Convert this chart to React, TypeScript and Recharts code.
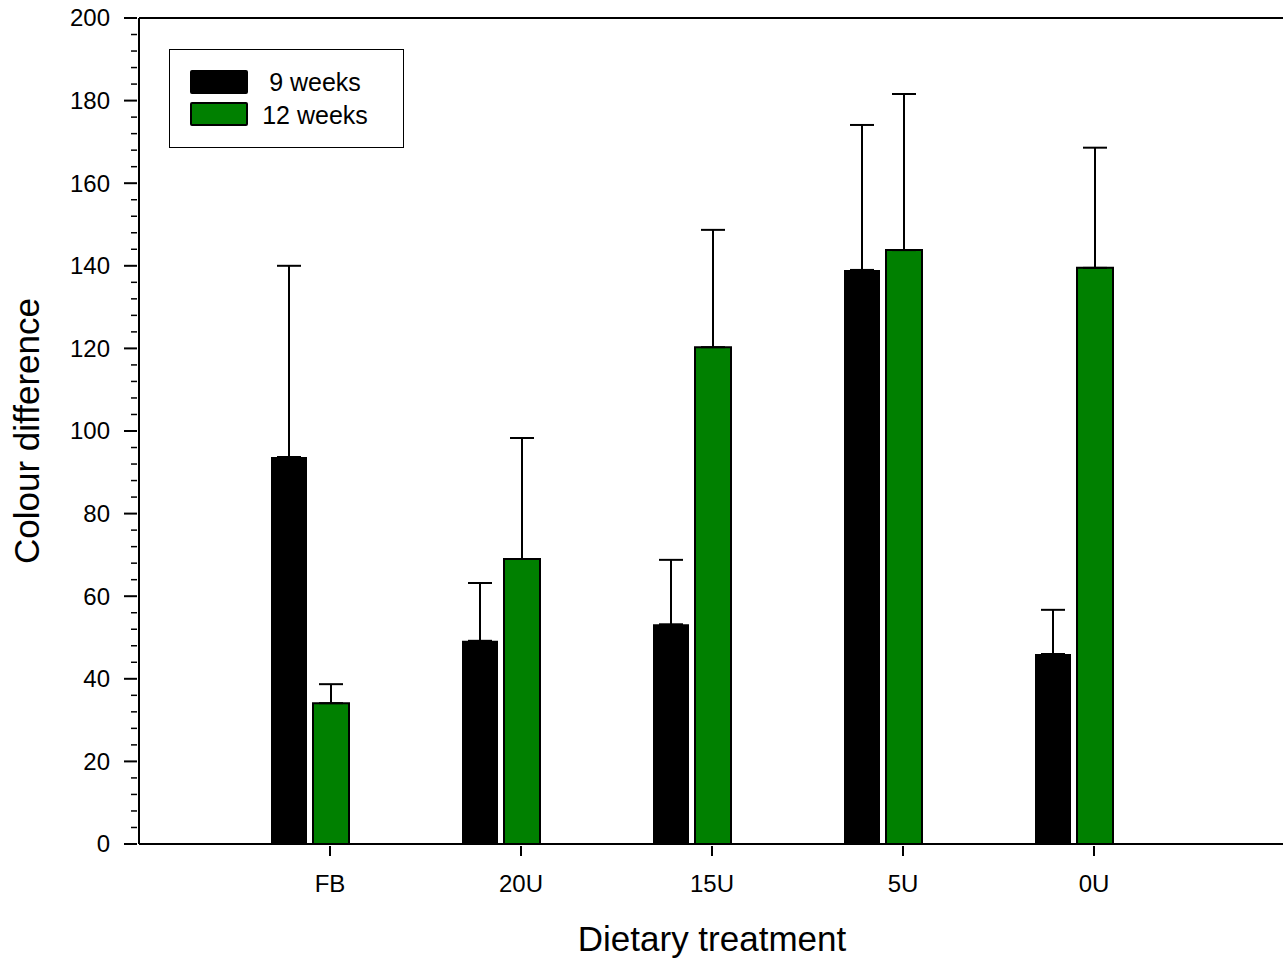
import { BarChart, Bar, XAxis, YAxis, ErrorBar, ReferenceLine } from "recharts";

const treatments = ["FB", "20U", "15U", "5U", "0U"];
const weeks9 = [93.7, 49.2, 53.2, 139.0, 46.0];
const weeks9Err = [46.3, 14.0, 15.6, 35.1, 10.7];
const weeks12 = [34.1, 69.0, 120.3, 143.8, 139.5];
const weeks12Err = [4.6, 29.3, 28.4, 37.8, 29.1];
const seriesNames = ["9 weeks", "12 weeks"];
const seriesColors = ["#000000", "#008000"];

// every 4 units a tick, label on multiples of 20
const yTicks = Array.from({ length: 51 }, (_, i) => i * 4);

const data = treatments.map((name, i) => ({
  name,
  w9: weeks9[i],
  w9err: [0, weeks9Err[i]],
  w12: weeks12[i],
  w12err: [0, weeks12Err[i]],
}));

const FONT = "Arial, 'Liberation Sans', Helvetica, sans-serif";

function LeftTick({ x, y, payload }: any) {
  const major = payload.value % 20 === 0;
  return (
    <g>
      <line x1={x - (major ? 13 : 6)} x2={x} y1={y} y2={y} stroke="#000" strokeWidth={major ? 2 : 1.5} />
      {major && (
        <text x={x - 27} y={y} dy="0.35em" textAnchor="end" fontSize={24} fill="#000" fontFamily={FONT}>
          {payload.value}
        </text>
      )}
    </g>
  );
}

function RightTick({ x, y, payload }: any) {
  const major = payload.value % 20 === 0;
  return (
    <line x1={x - (major ? 13 : 6)} x2={x} y1={y} y2={y} stroke="#000" strokeWidth={major ? 2 : 1.5} />
  );
}

function BottomTick({ x, y, payload }: any) {
  // ticks sit a little right of the group centre, like the original plot
  const cx = x + 20.5;
  return (
    <g>
      <line x1={cx} x2={cx} y1={y} y2={y + 10} stroke="#000" strokeWidth={2} />
      <text x={cx} y={y + 38} dy="0.35em" textAnchor="middle" fontSize={24} fill="#000" fontFamily={FONT}>
        {payload.value}
      </text>
    </g>
  );
}

function LegendBox() {
  return (
    <div
      style={{
        position: "absolute",
        left: 169,
        top: 49,
        width: 235,
        height: 99,
        boxSizing: "border-box",
        border: "1px solid #000",
        background: "#fff",
      }}
    >
      {seriesNames.map((n, i) => (
        <div key={n}>
          <div
            style={{
              position: "absolute",
              left: 20,
              top: 20 + i * 32,
              width: 58,
              height: 24,
              boxSizing: "border-box",
              background: seriesColors[i],
              border: "2px solid #000",
              borderRadius: 2,
            }}
          />
          <span
            style={{
              position: "absolute",
              left: 145,
              top: 32 + i * 33,
              transform: "translate(-50%, -50%)",
              fontSize: 25,
              lineHeight: 1,
              whiteSpace: "nowrap",
              fontFamily: FONT,
              color: "#000",
            }}
          >
            {n}
          </span>
        </div>
      ))}
    </div>
  );
}

export default function App() {
  return (
    <div
      style={{
        position: "absolute",
        left: 0,
        top: 0,
        width: 1283,
        height: 960,
        overflow: "hidden",
        background: "#fff",
        fontFamily: FONT,
      }}
    >
      <BarChart
        width={1300}
        height={960}
        data={data}
        margin={{ top: 18, right: 0, bottom: 0, left: 0 }}
        barSize={36}
        barGap={6}
      >
        <XAxis
          dataKey="name"
          height={116}
          padding={{ left: 75, right: 116 }}
          tickSize={0}
          tickLine={false}
          interval={0}
          tick={<BottomTick />}
          axisLine={{ stroke: "#000", strokeWidth: 2 }}
          label={{
            value: "Dietary treatment",
            position: "insideBottom",
            offset: 9,
            fontSize: 35,
            fill: "#000",
          }}
        />
        <YAxis
          width={139}
          domain={[0, 200]}
          ticks={yTicks}
          interval={0}
          tickSize={0}
          tickLine={false}
          tick={<LeftTick />}
          axisLine={{ stroke: "#000", strokeWidth: 2 }}
          label={{
            value: "Colour difference",
            angle: -90,
            position: "insideLeft",
            offset: 27,
            fontSize: 35,
            fill: "#000",
            style: { textAnchor: "middle" },
          }}
        />
        <YAxis
          yAxisId="right"
          orientation="right"
          width={15}
          domain={[0, 200]}
          ticks={yTicks}
          interval={0}
          tickSize={0}
          tickLine={false}
          tick={<RightTick />}
          axisLine={{ stroke: "#000", strokeWidth: 2 }}
        />
        <ReferenceLine y={200} stroke="#000" strokeWidth={2} />
        <Bar dataKey="w9" name={seriesNames[0]} fill={seriesColors[0]} isAnimationActive={false}>
          <ErrorBar dataKey="w9err" direction="y" width={12} stroke="#000" strokeWidth={2} isAnimationActive={false} />
        </Bar>
        <Bar
          dataKey="w12"
          name={seriesNames[1]}
          fill={seriesColors[1]}
          stroke="#000"
          strokeWidth={2}
          isAnimationActive={false}
        >
          <ErrorBar dataKey="w12err" direction="y" width={12} stroke="#000" strokeWidth={2} isAnimationActive={false} />
        </Bar>
      </BarChart>
      <LegendBox />
    </div>
  );
}
